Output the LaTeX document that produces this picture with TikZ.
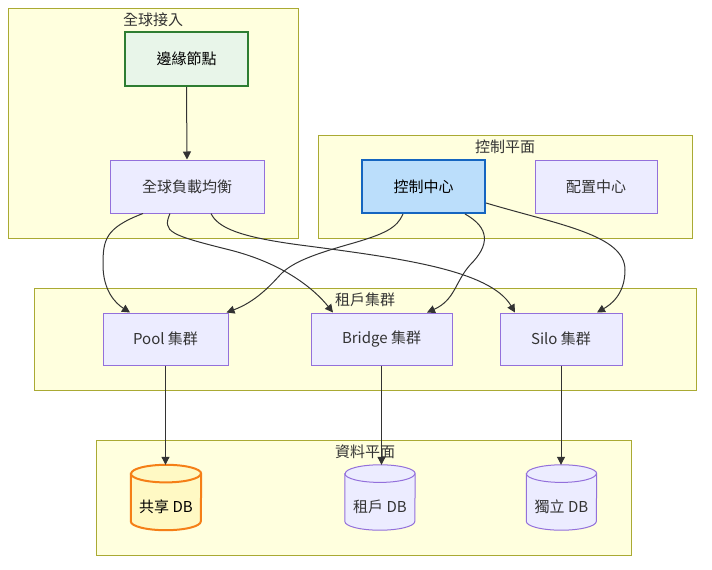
\documentclass[tikz,border=0pt]{standalone}
\usepackage{fontspec}
\setmainfont{Noto Sans CJK TC}
\usetikzlibrary{arrows.meta,calc}
\definecolor{clfill}{HTML}{FFFFDE}
\definecolor{clstroke}{HTML}{AAAA33}
\definecolor{ndfill}{HTML}{ECECFF}
\definecolor{ndstroke}{HTML}{9370DB}
\definecolor{txt}{HTML}{333333}
\definecolor{edgefill}{HTML}{E8F5E9}
\definecolor{edgestroke}{HTML}{2E7D32}
\definecolor{ccfill}{HTML}{BBDEFB}
\definecolor{ccstroke}{HTML}{1565C0}
\definecolor{dbfill}{HTML}{FFF9C4}
\definecolor{dbstroke}{HTML}{F57F17}
\definecolor{lnk}{HTML}{333333}
\tikzset{
  cluster/.style={draw=clstroke,fill=clfill,line width=1pt},
  cltitle/.style={text=txt,font=\fontsize{15}{18}\selectfont,inner sep=0pt},
  box/.style={draw=ndstroke,fill=ndfill,line width=1pt,text=txt,font=\fontsize{15}{18}\selectfont,inner sep=0pt},
  greenbox/.style={box,draw=edgestroke,fill=edgefill,line width=2pt,text=black},
  bluebox/.style={box,draw=ccstroke,fill=ccfill,line width=2pt,text=black},
  dbnode/.style={inner sep=0pt,minimum width=70pt,minimum height=65pt,font=\fontsize{15}{18}\selectfont},
  dblabel/.style={inner sep=0pt,font=\fontsize{15}{18}\selectfont},
  link/.style={draw=lnk,line width=1pt,-{Triangle[length=8pt,width=8pt]}},
}
\newcommand{\dbcyl}[4]{%
  \filldraw[fill=#2,draw=#3,line width=#4]
    ([yshift=-8.8pt]#1.north west) -- ([yshift=8.8pt]#1.south west)
    arc[start angle=180,end angle=360,x radius=35pt,y radius=8.8pt]
    -- ([yshift=-8.8pt]#1.north east)
    arc[start angle=0,end angle=180,x radius=35pt,y radius=8.8pt] -- cycle;
  \draw[draw=#3,line width=#4] ([yshift=-8.8pt]#1.north west)
    arc[start angle=180,end angle=360,x radius=35pt,y radius=8.8pt];
}
\begin{document}
\begin{tikzpicture}[x=1pt,y=-1pt]
\useasboundingbox (0,0) rectangle (712,570);
% clusters
\draw[cluster] (8,8) rectangle (298,238);
\node[cltitle] (t1) at (153,19.5) {全球接入};
\draw[cluster] (318,135) rectangle (692,238);
\node[cltitle] (t2) at (505,146.5) {控制平面};
\draw[cluster] (34,288) rectangle (696,390);
\node[cltitle] (t3) at (365,299.5) {租戶集群};
\draw[cluster] (96,440) rectangle (631,555);
\node[cltitle] (t4) at (365,451.5) {資料平面};
% nodes
\node[greenbox,minimum width=123pt,minimum height=54pt] (edge) at (186.5,59) {邊緣節點};
\node[box,minimum width=154pt,minimum height=53pt] (glb) at (187,186.5) {全球負載均衡};
\node[bluebox,minimum width=123pt,minimum height=53pt] (cc) at (423.5,186.5) {控制中心};
\node[box,minimum width=122pt,minimum height=53pt] (cfg) at (596,186.5) {配置中心};
\node[box,minimum width=125pt,minimum height=52pt] (pool) at (165.5,339) {Pool 集群};
\node[box,minimum width=141pt,minimum height=52pt] (bridge) at (381.5,339) {Bridge 集群};
\node[box,minimum width=122pt,minimum height=52pt] (silo) at (561,339) {Silo 集群};
% databases
\node[dbnode] (sdb) at (166,497.5) {};
\node[dbnode] (tdb) at (380,497.5) {};
\node[dbnode] (idb) at (561.5,497.5) {};
\dbcyl{sdb}{dbfill}{dbstroke}{2pt}
\dbcyl{tdb}{ndfill}{ndstroke}{1pt}
\dbcyl{idb}{ndfill}{ndstroke}{1pt}
\node[dblabel,text=black] (sdbl) at ([yshift=-9pt]sdb.center) {共享 DB};
\node[dblabel,text=txt] (tdbl) at ([yshift=-9pt]tdb.center) {租戶 DB};
\node[dblabel,text=txt] (idbl) at ([yshift=-9pt]idb.center) {獨立 DB};
% connectors
\draw[link] (edge.south) -- (glb.north);
\draw[link] ([xshift=-44pt]glb.south) .. controls (105,228) and (103,240) .. (103,265)
  .. controls (103,290) and (115,303) .. ([xshift=-35.5pt]pool.north);
\draw[link] ([xshift=-17pt]glb.south) .. controls (162,232) and (170,235) .. (230,250)
  .. controls (285,264) and (315,290) .. ([xshift=-48.5pt]bridge.north);
\draw[link] ([xshift=24pt]glb.south) .. controls (218,228) and (240,237) .. (300,245)
  .. controls (400,258) and (490,270) .. ([xshift=-46pt]silo.north);
\draw[link] ([xshift=-20.5pt]cc.south) .. controls (397,228) and (385,234) .. (350,244)
  .. controls (315,254) and (292,262) .. (280,275)
  .. controls (270,286) and (255,302) .. ([xshift=-2pt]pool.north east);
\draw[link] ([xshift=41.5pt]cc.south) .. controls (490,228) and (490,245) .. (470,265)
  .. controls (455,282) and (455,300) .. ([xshift=45.5pt]bridge.north);
\draw[link] ([yshift=-16.5pt]cc.east) .. controls (560,225) and (625,235) .. (625,270)
  .. controls (625,295) and (610,305) .. ([xshift=36pt]silo.north);
\draw[link] (pool.south) -- (pool.south |- sdb.north);
\draw[link] (bridge.south) -- (bridge.south |- tdb.north);
\draw[link] (silo.south) -- (silo.south |- idb.north);
\end{tikzpicture}
\end{document}
